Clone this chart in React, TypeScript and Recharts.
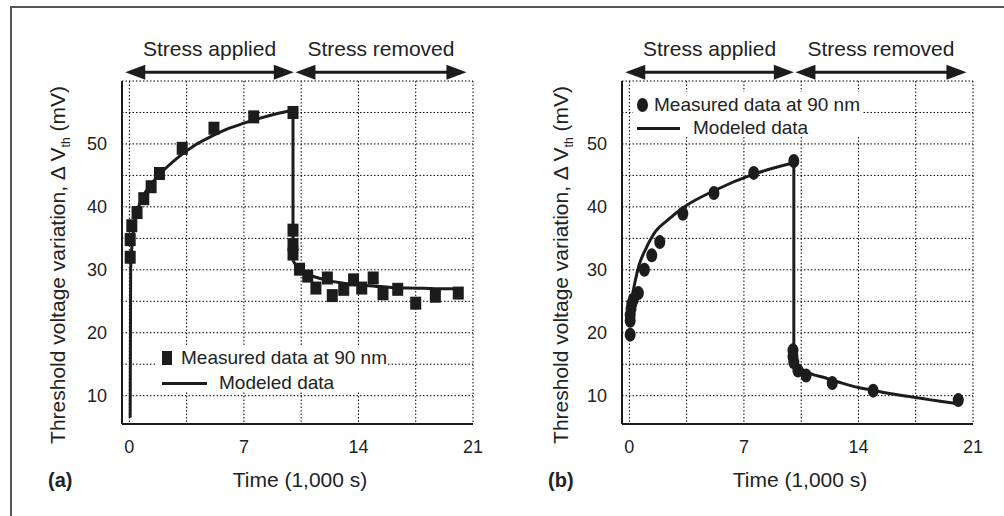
import React from 'react';
import { ComposedChart, XAxis, YAxis, CartesianGrid, Scatter, Line, ReferenceLine, Legend, Label } from 'recharts';

// ---------- axes ----------
const timeTicks = [0, 7, 14, 21];
const voltTicks = [10, 20, 30, 40, 50];
const timeGrid = [0, 3.5, 7, 10.5, 14, 17.5, 21];
const voltGrid = [10, 15, 20, 25, 30, 35, 40, 45, 50, 55, 60];
const timeDomain = [-0.45, 21];
const voltDomain = [5.5, 60];

// ---------- phases ----------
const phaseNames = ['Stress applied', 'Stress removed'];
const phaseSpans = [[-0.25, 10.05], [10.15, 20.6]];
const phaseArrowLevel = 61.4;

// ---------- panel (a) ----------
const measuredA = [
  [0.05, 32.0], [0.05, 34.8], [0.15, 37.0], [0.47, 39.1], [0.88, 41.3], [1.33, 43.2], [1.84, 45.3],
  [3.23, 49.3], [5.17, 52.5], [7.6, 54.3], [10.0, 55.0], [10.0, 36.3], [10.0, 34.0], [10.0, 32.5],
  [10.4, 30.1], [10.9, 29.0], [11.4, 27.1], [12.1, 28.7], [12.4, 25.9], [13.1, 26.9], [13.7, 28.4],
  [14.2, 27.1], [14.9, 28.7], [15.5, 26.2], [16.4, 26.9], [17.5, 24.7], [18.7, 25.8], [20.1, 26.3],
];
const modelRiseA = [
  [0.05, 6.5], [0.08, 30], [0.2, 35], [0.4, 38.5], [0.8, 41.5], [1.3, 43.5], [1.9, 45.3], [3, 47.9],
  [4, 49.8], [5, 51.2], [6, 52.4], [7, 53.3], [8, 54.1], [9, 54.8], [10, 55.4],
];
const modelDropA = [[10, 55.4], [10, 31.5]];
const modelRecoverA = [
  [10, 31.5], [10.3, 30.2], [10.7, 29.5], [11.3, 28.9], [12, 28.4], [13, 27.9], [14, 27.6],
  [15, 27.4], [16, 27.2], [17, 27.1], [18, 27.05], [19, 27.0], [20.2, 27.0],
];

// ---------- panel (b) ----------
const measuredB = [
  [0.05, 19.7], [0.05, 21.9], [0.05, 22.8], [0.1, 23.8], [0.15, 24.6], [0.25, 25.3], [0.55, 26.3],
  [0.92, 30.0], [1.37, 32.3], [1.86, 34.4], [3.27, 38.9], [5.17, 42.2], [7.6, 45.4], [10.05, 47.3],
  [10.0, 17.2], [10.0, 16.2], [10.05, 15.3], [10.3, 14.0], [10.8, 13.2], [12.4, 12.0], [14.9, 10.8],
  [20.1, 9.3],
];
const modelRiseB = [
  [0.0, 23.3], [0.15, 25.5], [0.3, 27.5], [0.6, 30.8], [1.0, 33.3], [1.6, 36.1], [2.3, 37.8],
  [3.3, 39.9], [5.2, 42.6], [7.6, 45.2], [10.05, 47.0],
];
const modelDropB = [[10.05, 47.0], [10.05, 18.0]];
const modelRecoverB = [
  [10.05, 18.0], [10.2, 15.5], [10.5, 14.3], [11, 13.6], [12, 12.8], [13, 12.0], [14, 11.3],
  [15, 10.8], [16, 10.3], [17, 9.9], [18, 9.5], [19, 9.1], [20.1, 8.7],
];

const toPts = (arr: number[][]) => arr.map(([x, y]) => ({ x, y }));

const INK = '#1c1c1c';
const TXT = '#222';

const SquareMark = (p: any) => (
  <rect x={p.cx - 5.5} y={p.cy - 6.5} width={11} height={13} fill={INK} />
);
const DotMark = (p: any) => <ellipse cx={p.cx} cy={p.cy} rx={5.5} ry={7} fill={INK} />;

const DoubleArrow = (p: any) => {
  const { x1, y1, x2 } = p;
  const h = 20;
  const w = 7.5;
  return (
    <g>
      <line x1={x1 + h - 2} y1={y1} x2={x2 - h + 2} y2={y1} stroke={INK} strokeWidth={3} />
      <polygon points={`${x1},${y1} ${x1 + h},${y1 - w} ${x1 + h},${y1 + w}`} fill={INK} />
      <polygon points={`${x2},${y1} ${x2 - h},${y1 - w} ${x2 - h},${y1 + w}`} fill={INK} />
    </g>
  );
};

type PanelProps = {
  tag: string;
  measured: number[][];
  rise: number[][];
  drop: number[][];
  recover: number[][];
  round: boolean;
  yLabelX: number;
  legend: { left: number; top: number; width: number; height: number; mark: number; text1: number; lineX: number; lineW: number; text2: number; r1: number; r2: number };
};

function Panel({ tag, measured, rise, drop, recover, round, yLabelX, legend }: PanelProps) {
  const legendContent = () => (
    <div style={{ position: 'relative', width: legend.width, height: legend.height, background: '#fff', fontSize: 19, color: TXT, fontFamily: 'Liberation Sans, Arial, sans-serif' }}>
      {round ? (
        <div style={{ position: 'absolute', left: legend.mark - 5.5, top: legend.r1 - 7, width: 11, height: 14, borderRadius: '50%', background: INK }} />
      ) : (
        <div style={{ position: 'absolute', left: legend.mark - 5, top: legend.r1 - 7, width: 10, height: 14, background: INK }} />
      )}
      <div style={{ position: 'absolute', left: legend.text1, top: legend.r1 - 11, lineHeight: '22px', whiteSpace: 'nowrap' }}>Measured data at 90 nm</div>
      <div style={{ position: 'absolute', left: legend.lineX, top: legend.r2 - 1.5, width: legend.lineW, height: 3, background: INK }} />
      <div style={{ position: 'absolute', left: legend.text2, top: legend.r2 - 11, lineHeight: '22px', whiteSpace: 'nowrap' }}>Modeled data</div>
    </div>
  );

  return (
    <ComposedChart width={500} height={516} margin={{ top: 81, right: 27, bottom: 0, left: 0 }}>
      <CartesianGrid
        stroke="#000"
        strokeDasharray="1.5 2"
        horizontalValues={voltGrid}
        verticalValues={timeGrid}
      />
      <XAxis
        type="number"
        dataKey="x"
        domain={timeDomain}
        ticks={timeTicks}
        interval={0}
        allowDataOverflow
        height={92}
        tickSize={0}
        tickMargin={16}
        tickLine={false}
        axisLine={{ stroke: INK, strokeWidth: 2 }}
        tick={{ fill: TXT, fontSize: 18 }}
      >
        <Label
          content={() => (
            <g>
              <text x={300} y={487} textAnchor="middle" fontSize={21} fill={TXT}>Time (1,000 s)</text>
              <text x={48} y={487} textAnchor="start" fontSize={20} fontWeight="bold" fill={TXT}>{tag}</text>
            </g>
          )}
        />
      </XAxis>
      <YAxis
        type="number"
        dataKey="y"
        domain={voltDomain}
        ticks={voltTicks}
        interval={0}
        allowDataOverflow
        width={122}
        tickSize={0}
        tickMargin={15}
        tickLine={false}
        axisLine={{ stroke: INK, strokeWidth: 2 }}
        tick={{ fill: TXT, fontSize: 18 }}
      >
        <Label
          content={() => (
            <text
              x={yLabelX}
              y={265}
              transform={`rotate(-90 ${yLabelX} 265)`}
              textAnchor="middle"
              dy="0.35em"
              fontSize={21}
              fill={TXT}
            >
              {'Threshold voltage variation, \u0394 V'}
              <tspan fontSize={12} dy={5}>th</tspan>
              <tspan dy={-5}>{' (mV)'}</tspan>
            </text>
          )}
        />
      </YAxis>
      {phaseNames.map((name, i) => (
        <ReferenceLine
          key={name}
          segment={[
            { x: phaseSpans[i][0], y: phaseArrowLevel },
            { x: phaseSpans[i][1], y: phaseArrowLevel },
          ]}
          ifOverflow="visible"
          shape={DoubleArrow}
          label={{ value: name, position: 'top', offset: 16, fill: TXT, fontSize: 21 }}
        />
      ))}
      <Line data={toPts(rise)} dataKey="y" type="monotone" stroke={INK} strokeWidth={3} dot={false} isAnimationActive={false} />
      <Line data={toPts(drop)} dataKey="y" type="linear" stroke={INK} strokeWidth={3} dot={false} isAnimationActive={false} />
      <Line data={toPts(recover)} dataKey="y" type="monotone" stroke={INK} strokeWidth={3} dot={false} isAnimationActive={false} />
      <Scatter data={toPts(measured)} dataKey="y" shape={round ? DotMark : SquareMark} isAnimationActive={false} />
      <Legend
        layout="vertical"
        align="center"
        verticalAlign="middle"
        content={legendContent}
        wrapperStyle={{ left: legend.left, top: legend.top, width: legend.width, height: legend.height }}
      />
    </ComposedChart>
  );
}

export default function App() {
  return (
    <div style={{ position: 'absolute', left: 0, top: 0, width: 1004, height: 516, background: '#fff', overflow: 'hidden', fontFamily: 'Liberation Sans, Arial, sans-serif' }}>
      <div style={{ position: 'absolute', left: 10, top: 6, width: 1100, height: 600, borderTop: '2px solid #555', borderLeft: '2px solid #555' }} />
      <div style={{ position: 'absolute', left: 0, top: 0 }}>
        <Panel
          tag="(a)"
          measured={measuredA}
          rise={modelRiseA}
          drop={modelDropA}
          recover={modelRecoverA}
          round={false}
          yLabelX={58}
          legend={{ left: 156, top: 345, width: 232, height: 46, mark: 11, text1: 25, lineX: 6, lineW: 45, text2: 63, r1: 13, r2: 38 }}
        />
      </div>
      <div style={{ position: 'absolute', left: 500, top: 0 }}>
        <Panel
          tag="(b)"
          measured={measuredB}
          rise={modelRiseB}
          drop={modelDropB}
          recover={modelRecoverB}
          round={true}
          yLabelX={61}
          legend={{ left: 133, top: 92, width: 230, height: 45, mark: 9, text1: 21, lineX: 4, lineW: 43, text2: 60, r1: 13, r2: 36 }}
        />
      </div>
    </div>
  );
}
